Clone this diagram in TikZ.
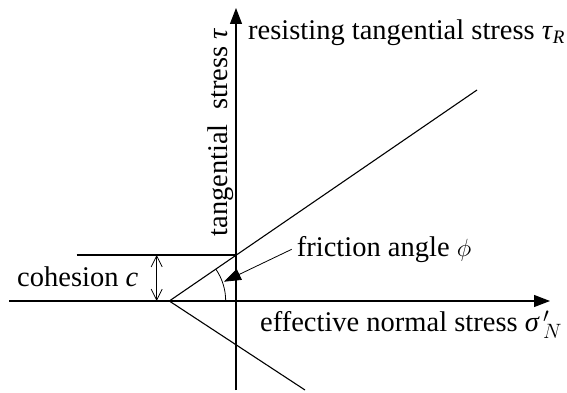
\documentclass[tikz,border=0pt]{standalone}
\usepackage{fontspec}
\setmainfont{Liberation Serif}
\usetikzlibrary{arrows.meta}
\begin{document}
\begin{tikzpicture}[x=1pt,y=1pt,
  lbl/.style={inner sep=0pt,font=\fontsize{28.5}{34}\selectfont},
  ln/.style={line width=1.1pt},
  axarrow/.style={ln,-{Triangle[length=16pt,width=12pt]}},
  dimarrow/.style={line width=0.8pt,{Straight Barb[length=11pt,width=11pt]}-{Straight Barb[length=11pt,width=11pt]}}]
\useasboundingbox (0,0) rectangle (567,392);
% key points
\coordinate (O) at (169.3,91);
\coordinate (xs) at (9,91);
\coordinate (xe) at (550,91);
\coordinate (ys) at (236,2);
\coordinate (ye) at (236,384);
\coordinate (up) at (477,302);
\coordinate (lo) at (305,2);
\coordinate (cs) at (76.7,137);
\coordinate (ce) at (236,137);
\coordinate (da) at (156.7,91);
\coordinate (db) at (156.7,137);
\coordinate (ftail) at (291.7,142.7);
\coordinate (ftip) at (224,110.3);
% axes
\draw[axarrow] (xs) -- (xe);
\draw[axarrow] (ys) -- (ye);
% envelope lines
\draw[ln] (O) -- (up);
\draw[ln] (O) -- (lo);
\draw[ln] (cs) -- (ce);
% cohesion dimension
\draw[dimarrow] (da) -- (db);
% friction angle arc
\draw[line width=0.8pt] ([shift={(0:56.4)}]O) arc[start angle=0,end angle=34.4,radius=56.4];
\draw[line width=0.8pt,-{Triangle[length=17pt,width=12pt]}] (ftail) -- (ftip);
% labels
\node[lbl,anchor=base west] (coh) at (17,105.3) {cohesion \textit{c}};
\node[lbl,anchor=base west] (fri) at (296.7,135.3) {friction angle $\phi$};
\node[lbl,anchor=base west] (ens) at (260,60.3) {effective normal stress \textit{σ}$^{\,\prime}_{\,N}$};
\node[lbl,anchor=base west] (rts) at (248,352.7) {resisting tangential stress \textit{τ}\raisebox{-0.3ex}{\fontsize{19}{20}\selectfont\textit{R}}};
\node[lbl,anchor=base west,rotate=90] (tsl) at (227,155.3) {tangential\ \ stress \textit{τ}};
\end{tikzpicture}
\end{document}
